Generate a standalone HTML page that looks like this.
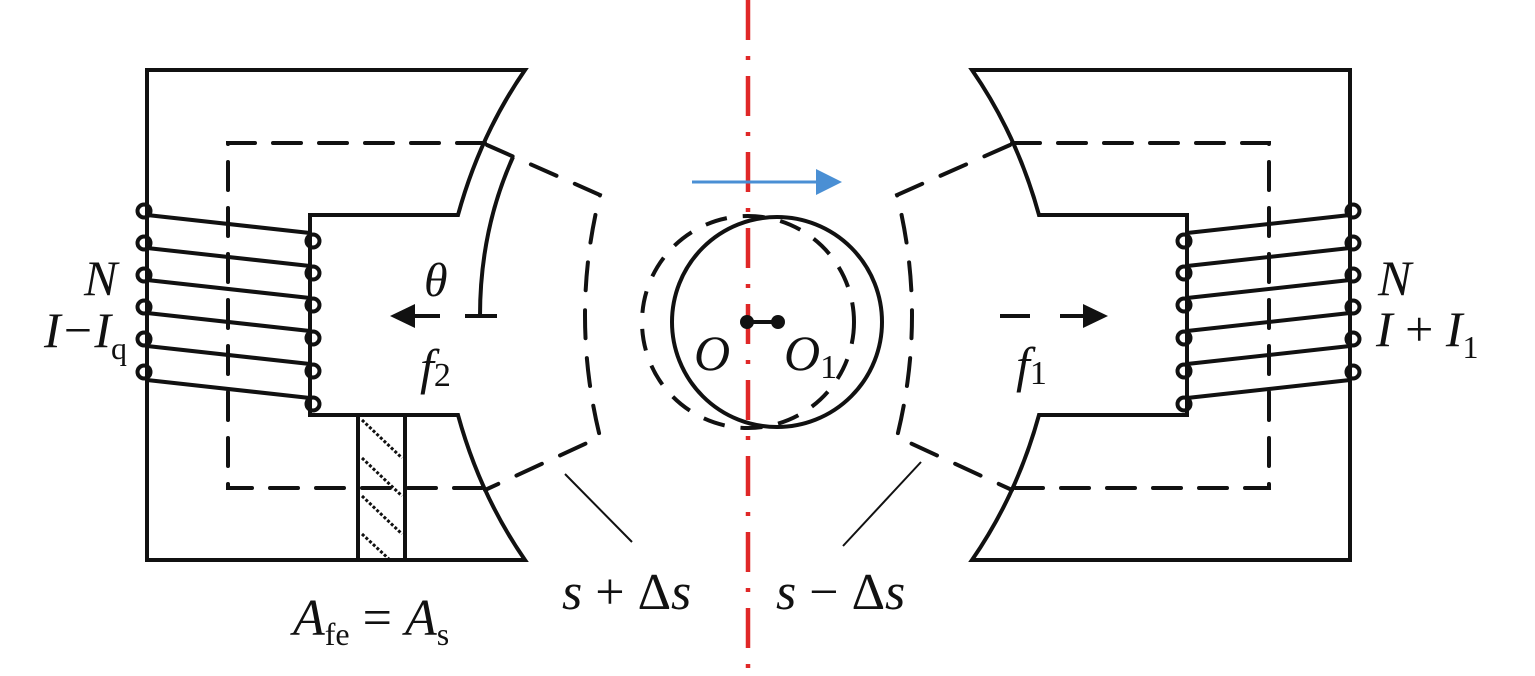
<!DOCTYPE html>
<html><head><meta charset="utf-8"><style>
html,body{margin:0;padding:0;background:#fff;}
svg{display:block}
text{font-family:"Liberation Serif","Times New Roman",serif;font-style:italic;fill:#111;}
.up{font-style:normal}
</style></head><body>
<svg width="1535" height="676" viewBox="0 0 1535 676" xmlns="http://www.w3.org/2000/svg">
<defs>
<g id="core">
  <path d="M147,70 L525,70 Q480,135 458,215 L310,215 L310,415 L458,415 Q480,495 525,560 L147,560 Z" fill="none" stroke="#111" stroke-width="4" stroke-linejoin="miter"/>
  <path d="M485,143 L228,143 L228,488 L485,488" fill="none" stroke="#111" stroke-width="4" stroke-dasharray="28,18" stroke-linecap="round"/>
  <path d="M487,145 L600,195 Q570,315 600,437 L485,490" fill="none" stroke="#111" stroke-width="4" stroke-dasharray="28,20" stroke-linecap="round"/>
  <g fill="none" stroke="#111" stroke-width="4">
    <circle cx="144" cy="211" r="6.5"/><circle cx="144" cy="243" r="6.5"/><circle cx="144" cy="275" r="6.5"/><circle cx="144" cy="307" r="6.5"/><circle cx="144" cy="339" r="6.5"/><circle cx="144" cy="372" r="6.5"/>
    <circle cx="313" cy="241" r="6.5"/><circle cx="313" cy="273" r="6.5"/><circle cx="313" cy="305" r="6.5"/><circle cx="313" cy="338" r="6.5"/><circle cx="313" cy="371" r="6.5"/><circle cx="313" cy="404" r="6.5"/>
    <line x1="147" y1="215" x2="310" y2="233"/>
    <line x1="147" y1="248" x2="310" y2="266"/>
    <line x1="147" y1="280" x2="310" y2="298"/>
    <line x1="147" y1="313" x2="310" y2="331"/>
    <line x1="147" y1="346" x2="310" y2="364"/>
    <line x1="147" y1="380" x2="310" y2="398"/>
  </g>
</g>
</defs>
<use href="#core"/>
<use href="#core" transform="translate(1497,0) scale(-1,1)"/>
<g stroke="#111">
  <line x1="358" y1="415" x2="358" y2="560" stroke-width="4"/>
  <line x1="405" y1="415" x2="405" y2="560" stroke-width="4"/>
  <g stroke-width="3" stroke-dasharray="3,2">
    <line x1="362" y1="420" x2="402" y2="458"/>
    <line x1="362" y1="458" x2="402" y2="496"/>
    <line x1="362" y1="496" x2="402" y2="534"/>
    <line x1="362" y1="534" x2="390" y2="560"/>
  </g>
</g>
<g stroke="#111" stroke-width="4" fill="none">
  <path d="M513,157 Q480,230 480,316"/>
  <line x1="465" y1="316" x2="497" y2="316"/>
  <line x1="412" y1="316" x2="440" y2="316"/>
</g>
<polygon points="390,316 415,304 415,328" fill="#111"/>
<g stroke="#111" stroke-width="4">
  <line x1="1000" y1="316" x2="1030" y2="316"/>
  <line x1="1060" y1="316" x2="1085" y2="316"/>
</g>
<polygon points="1108,316 1083,304 1083,328" fill="#111"/>
<line x1="565" y1="474" x2="632" y2="542" stroke="#111" stroke-width="2"/>
<line x1="921" y1="462" x2="843" y2="546" stroke="#111" stroke-width="2"/>
<circle cx="748" cy="322" r="106" fill="none" stroke="#111" stroke-width="4" stroke-dasharray="22,16"/>
<circle cx="777" cy="322" r="105" fill="none" stroke="#111" stroke-width="4"/>
<line x1="748" y1="0" x2="748" y2="676" stroke="#e02828" stroke-width="4.5" stroke-dasharray="40,16,4,16"/>
<line x1="747" y1="322" x2="778" y2="322" stroke="#111" stroke-width="4"/>
<circle cx="747" cy="322" r="7" fill="#111"/>
<circle cx="778" cy="322" r="7" fill="#111"/>
<line x1="692" y1="182" x2="818" y2="182" stroke="#4a8fd4" stroke-width="3"/>
<polygon points="842,182 816,169 816,195" fill="#4a8fd4"/>
<text x="84" y="295" font-size="50">N</text>
<text x="44" y="347" font-size="50">I−I<tspan class="up" font-size="32" dy="12">q</tspan></text>
<text x="1378" y="295" font-size="50">N</text>
<text x="1376" y="346" font-size="50">I <tspan class="up">+</tspan> I<tspan class="up" font-size="32" dy="12">1</tspan></text>
<text x="424" y="296" font-size="48">θ</text>
<text x="420" y="384" font-size="50">f<tspan class="up" font-size="34" dy="2">2</tspan></text>
<text x="1016" y="382" font-size="50">f<tspan class="up" font-size="34" dy="2">1</tspan></text>
<text x="694" y="370" font-size="50">O</text>
<text x="784" y="370" font-size="50">O<tspan class="up" font-size="34" dy="8">1</tspan></text>
<text x="562" y="609" font-size="52">s <tspan class="up">+</tspan> <tspan class="up">Δ</tspan>s</text>
<text x="776" y="609" font-size="52">s <tspan class="up">−</tspan> <tspan class="up">Δ</tspan>s</text>
<text x="293" y="635" font-size="52">A<tspan class="up" font-size="32" dy="10">fe</tspan><tspan class="up" dy="-10"> = </tspan>A<tspan class="up" font-size="32" dy="10">s</tspan></text>
</svg>
</body></html>
